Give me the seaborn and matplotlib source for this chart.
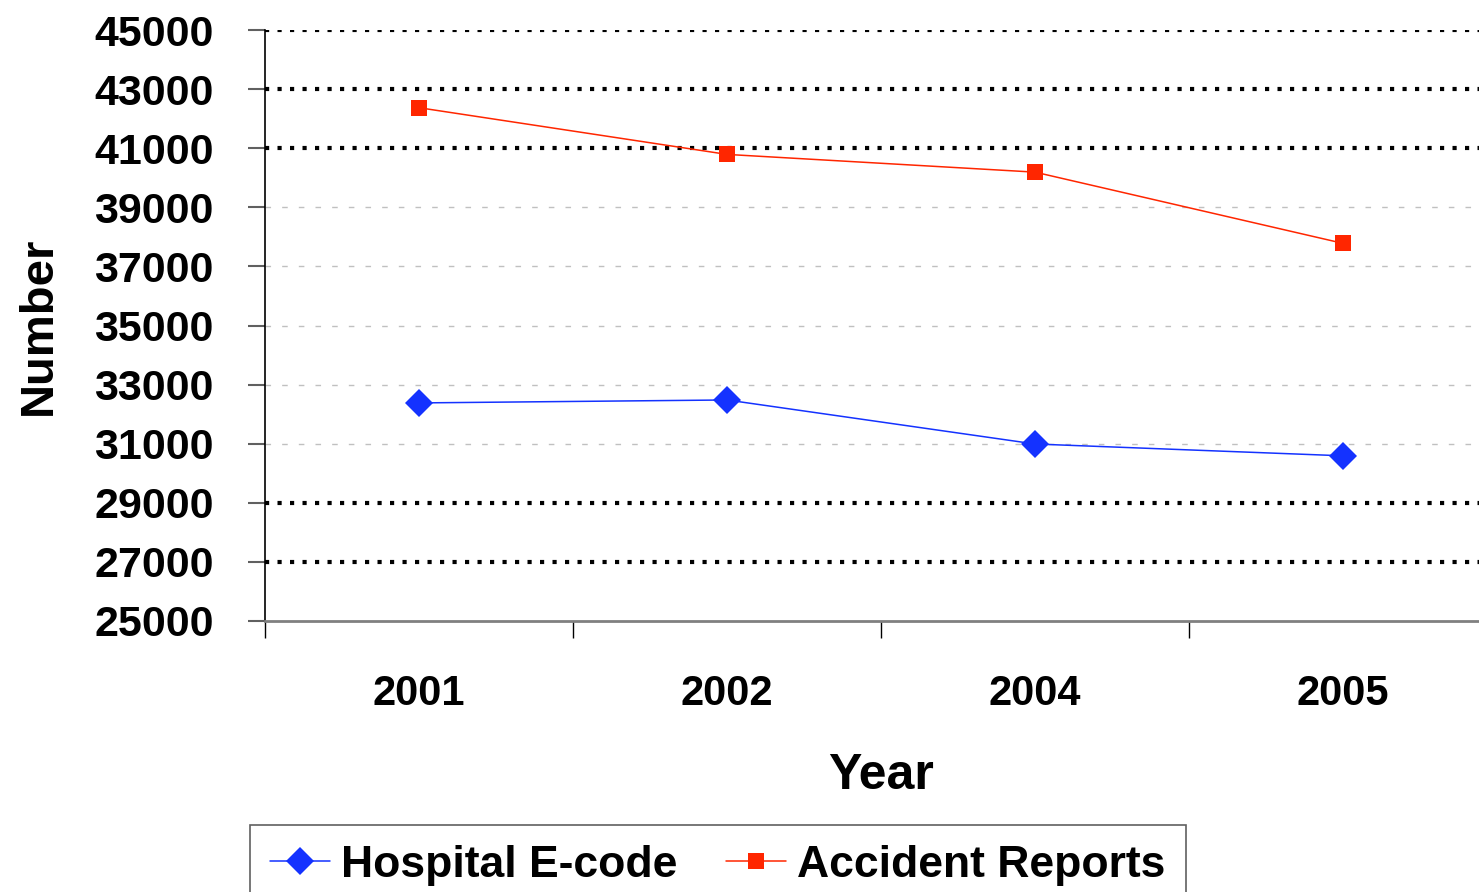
import matplotlib
matplotlib.use("Agg")
import matplotlib.pyplot as plt
import seaborn as sns
from matplotlib.ticker import FixedLocator

years = ["2001", "2002", "2004", "2005"]
hospital_ecode = [32380, 32480, 30990, 30590]
accident_reports = [42370, 40790, 40190, 37780]
y_ticks = list(range(25000, 45001, 2000))
dotted_grid = [45000, 43000, 41000, 29000, 27000]
dashed_grid = [39000, 37000, 35000, 33000, 31000]

sns.set_style("white")
plt.rcParams["font.family"] = ["Liberation Sans", "DejaVu Sans"]
plt.rcParams["text.color"] = "black"
plt.rcParams["axes.labelcolor"] = "black"
fs = 31

fig = plt.figure(figsize=(14.79, 8.92), dpi=100)
ax = fig.add_axes([265 / 1479, 1 - 621 / 892, 1232 / 1479, 591 / 892])

for yv in dotted_grid:
    ax.axhline(yv, color="black", lw=3.0, linestyle=(0, (1.0, 2.0)),
               dash_capstyle="butt", zorder=1)
for yv in dashed_grid:
    ax.axhline(yv, color="#c0c0c0", lw=1.0, linestyle=(0, (4, 8)), zorder=1)

sns.lineplot(x=years, y=hospital_ecode, ax=ax, color="#1432ff", lw=1.1,
             marker="D", markersize=14, markeredgewidth=0,
             label="Hospital E-code", zorder=3)
sns.lineplot(x=years, y=accident_reports, ax=ax, color="#ff2600", lw=1.1,
             marker="s", markersize=11.5, markeredgewidth=0,
             label="Accident Reports", zorder=3)

ax.set_ylim(25000, 45000)
ax.set_xlim(-0.5, 3.5)
ax.set_yticks(y_ticks)
ax.set_yticklabels([str(t) for t in y_ticks], fontsize=fs, fontweight="bold")
ax.set_xticks(range(len(years)))
ax.set_xticklabels(years, fontsize=30, fontweight="bold")
ax.xaxis.set_minor_locator(FixedLocator([-0.5, 0.5, 1.5, 2.5]))
ax.tick_params(axis="x", which="major", length=0, pad=38, labelcolor="black")
ax.tick_params(axis="x", which="minor", length=12, width=1, color="black",
               direction="out", bottom=True)
ax.tick_params(axis="y", which="major", length=12, width=1.5, color="#606060",
               direction="out", left=True, pad=25, labelcolor="black")

ax.set_xlabel("Year", fontsize=36, fontweight="bold", labelpad=28)
ax.set_ylabel("Number", fontsize=34, fontweight="bold", labelpad=24)

for s in ["top", "right"]:
    ax.spines[s].set_visible(False)
ax.spines["left"].set_color("black")
ax.spines["left"].set_linewidth(1.2)
ax.spines["bottom"].set_color("#808080")
ax.spines["bottom"].set_linewidth(2)

handles, labels = ax.get_legend_handles_labels()
ax.get_legend().remove()
leg = fig.legend(handles, labels, loc="upper left",
                 bbox_to_anchor=(250 / 1479, 1 - 825 / 892), borderaxespad=0,
                 ncol=2, fancybox=False, edgecolor="#606060", framealpha=1,
                 handlelength=1.35, handletextpad=0.25, columnspacing=1.1,
                 borderpad=0.45,
                 prop={"size": 32, "weight": "bold"})
leg.get_frame().set_linewidth(1.2)

fig.savefig("out.png", dpi=100)
